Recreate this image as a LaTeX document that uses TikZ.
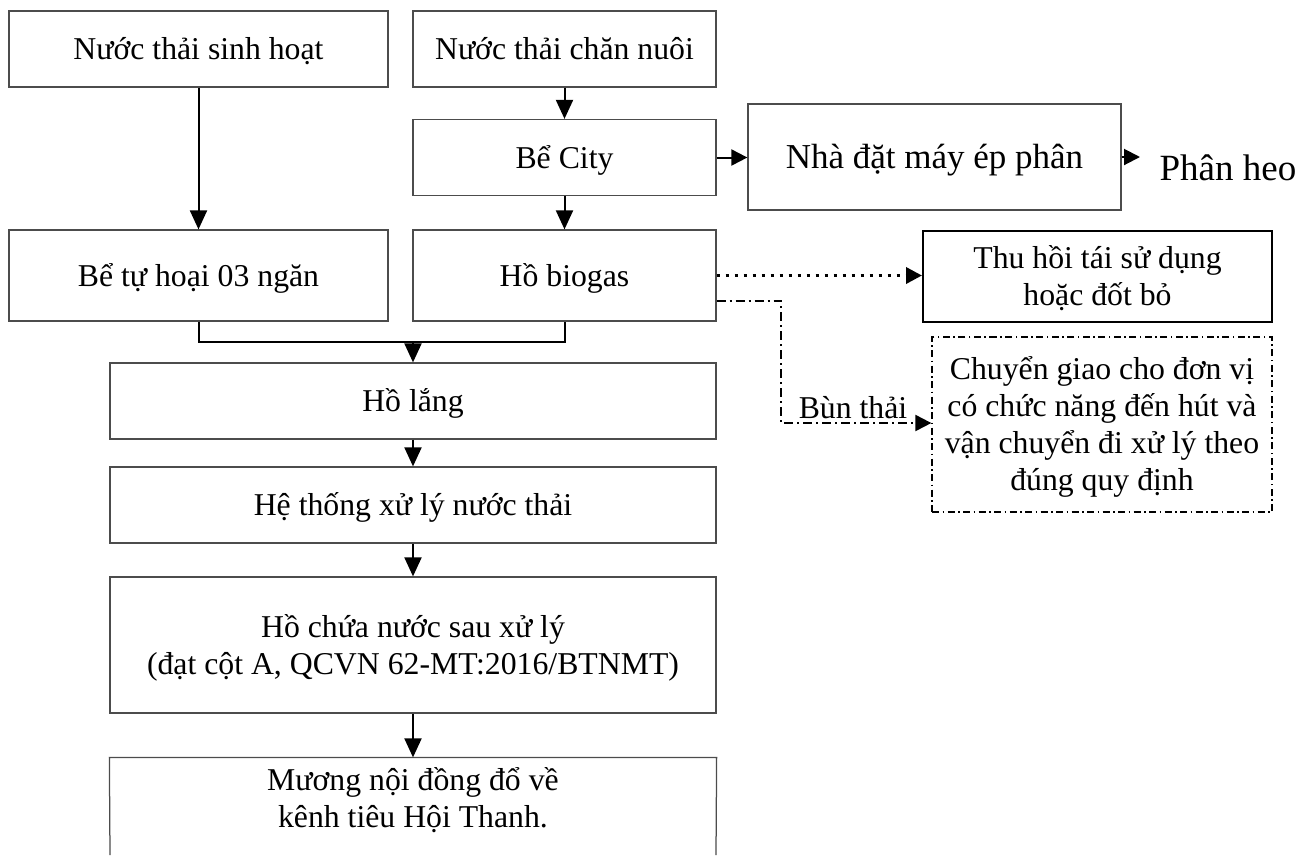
\documentclass[tikz,border=0pt]{standalone}
\usepackage{fontspec}
\setmainfont{Liberation Serif}
\usetikzlibrary{arrows.meta}
\newlength{\pxu}
\setlength{\pxu}{0.4pt}

\begin{document}
\begin{tikzpicture}[x=\pxu,y=-\pxu,
	box/.style={draw=black!70, line width=0.5pt, align=center, inner sep=0pt,
		font=\fontsize{12.7}{14.8}\selectfont, text height=8.4pt, text depth=0pt},
	arr/.style={line width=0.8pt, -{Triangle[length=7.6pt,width=6.8pt]}},
	sidearr/.style={line width=0.8pt, -{Triangle[length=6.4pt,width=6.4pt]}},
	dotarr/.style={line width=1.4pt, dash pattern=on 1.5pt off 2.1pt, -{Triangle[length=6.4pt,width=6.4pt]}},
	bunline/.style={line width=0.8pt, dash pattern=on 3.6pt off 1.6pt on 0.8pt off 1.6pt, -{Triangle[length=6.4pt,width=6.4pt]}},
	dashbox/.style={draw=black, line width=0.5pt, dash pattern=on 2.8pt off 1.4pt on 0.6pt off 1.4pt}]

\useasboundingbox (0,0) rectangle (1301,855);

% nguon nuoc thai
\node[box, minimum width=379*\pxu, minimum height=76*\pxu] (sinhhoat) at (198.5,49) {Nước thải sinh hoạt};
\node[box, minimum width=303*\pxu, minimum height=76*\pxu] (channuoi) at (564.5,49) {Nước thải chăn nuôi};
\node[box, minimum width=303*\pxu, minimum height=76*\pxu] (becity) at (564.5,157.5) {Bể City};
\node[box, minimum width=373*\pxu, minimum height=106*\pxu, font=\fontsize{14}{16}\selectfont, text height=9.3pt] (nhadat) at (934.5,157) {Nhà đặt máy ép phân};
\node[inner sep=0pt, anchor=base, font=\fontsize{14.8}{17}\selectfont] (phanheo) at (1228,180) {Phân heo};
\coordinate (phanin) at (1140,157);

\node[box, minimum width=379*\pxu, minimum height=91*\pxu] (tuhoai) at (198.5,275.5) {Bể tự hoại 03 ngăn};
\node[box, minimum width=303*\pxu, minimum height=91*\pxu] (biogas) at (564.5,275.5) {Hồ biogas};
\node[box, draw=black, line width=0.8pt, text height=23.2pt, minimum width=349*\pxu, minimum height=91*\pxu] (thuhoi) at (1097.5,276) {Thu hồi tái sử dụng\\hoặc đốt bỏ};
\node[box, dashbox, text height=52.8pt, minimum width=340*\pxu, minimum height=175*\pxu] (chuyengiao) at (1102,424.5) {Chuyển giao cho đơn vị\\có chức năng đến hút và\\vận chuyển đi xử lý theo\\đúng quy định};

% xu ly
\node[box, minimum width=606*\pxu, minimum height=76*\pxu] (holang) at (413,401) {Hồ lắng};
\node[box, minimum width=606*\pxu, minimum height=76*\pxu] (hethong) at (413,505) {Hệ thống xử lý nước thải};
\node[box, text height=23.2pt, minimum width=606*\pxu, minimum height=136*\pxu] (hochua) at (413,645) {Hồ chứa nước sau xử lý\\(đạt cột A, QCVN 62-MT:2016/BTNMT)};
\node[box, draw=none, text height=23.2pt, minimum width=606*\pxu, minimum height=81*\pxu] (muong) at (413,798.5) {Mương nội đồng đổ về\\kênh tiêu Hội Thanh.};
\coordinate (muongl) at (110,855);
\coordinate (muongr) at (716,855);
\draw[draw=black!70, line width=0.5pt] (muongl) -- (muong.north west) -- (muong.north east) -- (muongr);

\draw[arr] (sinhhoat.south) -- (tuhoai.north);
\draw[arr] (channuoi.south) -- (becity.north);
\draw[arr] (becity.south) -- (biogas.north);
\draw[sidearr] (becity.east) -- (becity.east -| nhadat.west);
\draw[sidearr] (nhadat.east) -- (phanin);

% gop dong
\coordinate (hop) at (413,342);
\draw[line width=0.8pt] (tuhoai.south) |- (hop) -| (biogas.south);
\draw[arr] (hop) -- (holang.north);
\draw[arr] (holang.south) -- (hethong.north);
\draw[arr] (hethong.south) -- (hochua.north);
\draw[arr] (hochua.south) -- (muong.north);

% khi biogas, bun thai
\draw[dotarr] (biogas.east) -- (biogas.east -| thuhoi.west);
\coordinate (bun) at (781,423);
\draw[bunline] ([yshift=-10pt]biogas.east) -| (bun) -- (bun -| chuyengiao.west);
\node[inner sep=0pt, anchor=base, font=\fontsize{12.7}{14.8}\selectfont] (bunthai) at (853,418) {Bùn thải};

\end{tikzpicture}
\end{document}
